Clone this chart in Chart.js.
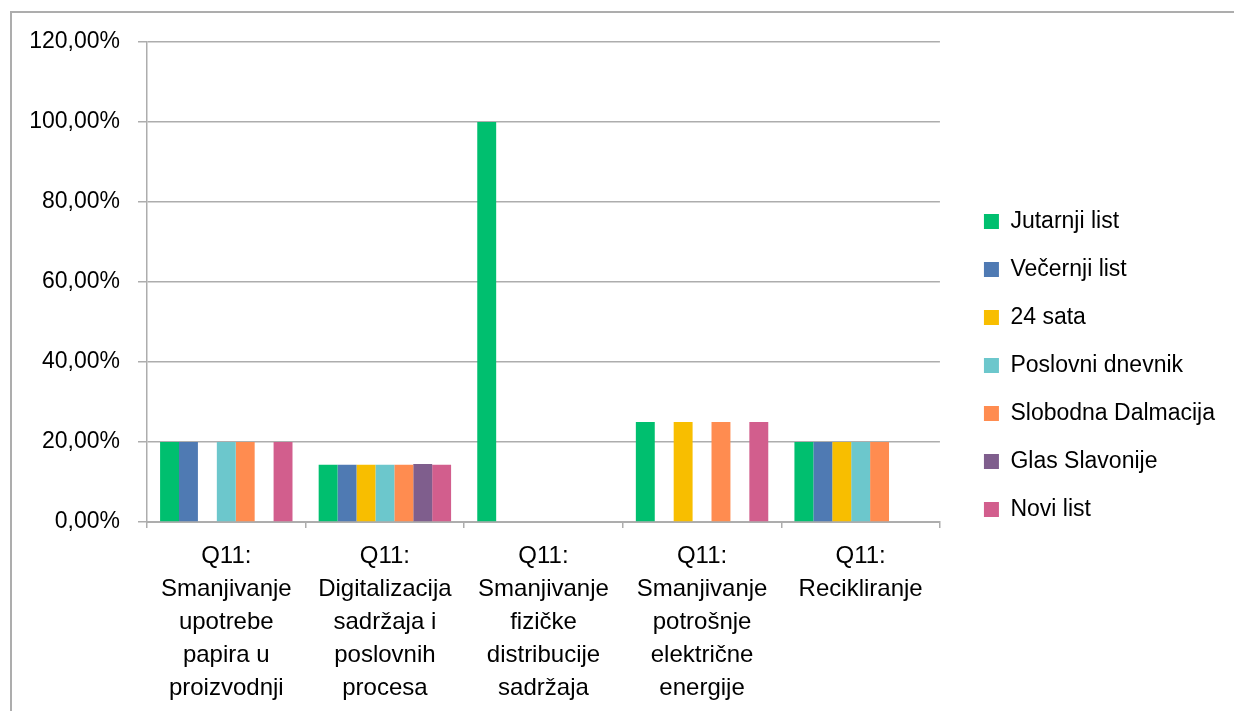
<!DOCTYPE html>
<html>
<head>
<meta charset="utf-8">
<script src="https://cdn.jsdelivr.net/npm/chart.js@4"></script>
<style>
  body { margin: 0; background: #fff; }
  #wrap { width: 1234px; height: 711px; position: relative; }
</style>
</head>
<body>
<div id="wrap"><canvas id="myChart" width="1234" height="711"></canvas></div>
<script>
// categories (multi-line labels)
const categories = [
    ["Q11:", "Smanjivanje", "upotrebe", "papira u", "proizvodnji"],
    ["Q11:", "Digitalizacija", "sadržaja i", "poslovnih", "procesa"],
    ["Q11:", "Smanjivanje", "fizičke", "distribucije", "sadržaja"],
    ["Q11:", "Smanjivanje", "potrošnje", "električne", "energije"],
    ["Q11:", "Recikliranje"]
];

// series values in %
const jutarnjiList = [20, 14.29, 100, 25, 20];
const vecernjiList = [20, 14.29, 0, 0, 20];
const sata24 = [0, 14.29, 0, 25, 20];
const poslovniDnevnik = [20, 14.29, 0, 0, 20];
const slobodnaDalmacija = [20, 14.29, 0, 25, 20];
const glasSlavonije = [0, 14.5, 0, 0, 0];
const noviList = [20, 14.29, 0, 25, 0];

const seriesNames = ["Jutarnji list", "Večernji list", "24 sata", "Poslovni dnevnik",
    "Slobodna Dalmacija", "Glas Slavonije", "Novi list"];
const seriesColors = ['#00BF6F', '#4F7AB3', '#F8BE00', '#6CC7CC', '#FF8C50', '#7F5E8D', '#D25E8D'];
const allSeries = [jutarnjiList, vecernjiList, sata24, poslovniDnevnik, slobodnaDalmacija, glasSlavonije, noviList];

// y tick values
const yTicks = [0, 20, 40, 60, 80, 100, 120];

const gridColor = '#ADADAD';
const fontFamily = '"Liberation Sans", Arial, sans-serif';

// outer border like the excel chart frame
const frame = {
    id: 'frame',
    beforeDraw(chart) {
        const ctx = chart.ctx;
        ctx.save();
        ctx.fillStyle = '#fff';
        ctx.fillRect(0, 0, chart.width, chart.height);
        ctx.strokeStyle = '#ADADAD';
        ctx.lineWidth = 2;
        ctx.strokeRect(11, 12, chart.width + 20, chart.height + 20);
        ctx.restore();
    }
};

// push the legend a bit away from the plot
const legendGap = {
    id: 'legendGap',
    afterLayout(chart) {
        if (chart.legend) {
            chart.legend.left += 19;
            chart.legend.right += 19;
        }
    }
};

const datasets = allSeries.map((vals, i) => ({
    label: seriesNames[i],
    data: vals,
    backgroundColor: seriesColors[i],
    borderWidth: 0,
    barPercentage: 1,
    categoryPercentage: 0.835
}));

const myChart = new Chart(document.getElementById('myChart'), {
    type: 'bar',
    data: { labels: categories, datasets: datasets },
    plugins: [frame, legendGap],
    options: {
        responsive: false,
        animation: false,
        layout: { padding: { top: 20, left: 0, right: 28, bottom: 0 } },
        plugins: {
            tooltip: { enabled: false },
            // blank title only used as spacer above the plot
            title: {
                display: true,
                text: ' ',
                fullSize: false,
                font: { size: 10, lineHeight: 1 },
                padding: { top: 6, bottom: 6 }
            },
            legend: {
                position: 'right',
                labels: {
                    boxWidth: 15,
                    boxHeight: 15,
                    padding: 25,
                    color: '#000',
                    font: { family: fontFamily, size: 23 }
                }
            }
        },
        scales: {
            x: {
                grid: {
                    offset: true,
                    drawOnChartArea: false,
                    tickLength: 6,
                    color: gridColor,
                    lineWidth: 1.5
                },
                border: { color: gridColor, width: 2 },
                ticks: {
                    color: '#000',
                    maxRotation: 0,
                    autoSkip: false,
                    padding: 12,
                    font: { family: fontFamily, size: 24, lineHeight: 1.375 }
                },
                afterFit(scale) { scale.height = 189; }
            },
            y: {
                min: 0,
                max: 120,
                afterBuildTicks(scale) { scale.ticks = yTicks.map(v => ({ value: v })); },
                grid: { color: gridColor, lineWidth: 1.5, tickLength: 9 },
                border: { color: gridColor, width: 1.5 },
                ticks: {
                    color: '#000',
                    padding: 18,
                    font: { family: fontFamily, size: 23 },
                    callback: v => v.toFixed(2).replace('.', ',') + '%'
                },
                afterFit(scale) { scale.width = 147; }
            }
        }
    }
});
</script>
</body>
</html>
